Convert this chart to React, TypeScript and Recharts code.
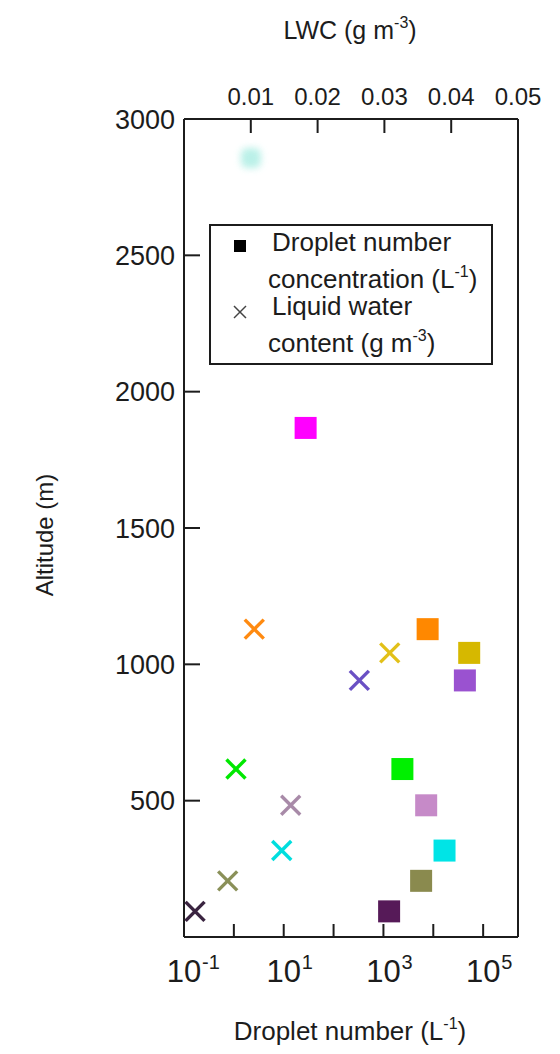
import React from "react";
import { ScatterChart, Scatter, XAxis, YAxis, Legend } from "recharts";

// altitude levels (m), shared by both series
const altitude = [94, 206, 317, 483, 616, 941, 1042, 1129, 1867];
const dropletNumber = [1300, 5700, 16800, 7200, 2400, 43000, 52500, 7700, 27.5];
const squareColors = ["#561a58", "#8a8a4e", "#00e4e6", "#c68ac8", "#00f000", "#9a52d0", "#d6b800", "#ff8800", "#ff00ff"];

const lwcAltitude = [94, 206, 317, 483, 616, 941, 1042, 1129];
const lwc = [0.00165, 0.00654, 0.01463, 0.01597, 0.00778, 0.02625, 0.0308, 0.01052];
const crossColors = ["#3a2440", "#8a9058", "#00dede", "#a88aa8", "#00e800", "#6a50c4", "#e2c018", "#ff8a10"];

// faint, washed-out point near the top
const fadedAltitude = [2857];
const fadedNumber = [2.2];

const altTicks = [500, 1000, 1500, 2000, 2500, 3000];
const lwcTicks = [0.01, 0.02, 0.03, 0.04, 0.05];
const nTicks = [0.1, 1, 10, 100, 1000, 10000, 100000];
const nLabels: Record<string, string> = { "0.1": "-1", "10": "1", "1000": "3", "100000": "5" };

const INK = "#1c1c1c";
const FONT = "'Liberation Sans', Arial, Helvetica, sans-serif";

const squareData = altitude.map((a, i) => ({ n: dropletNumber[i], alt: a, color: squareColors[i] }));
const crossData = lwcAltitude.map((a, i) => ({ lwc: lwc[i], alt: a, color: crossColors[i] }));
const fadedData = fadedAltitude.map((a, i) => ({ n: fadedNumber[i], alt: a }));

const Square = (props: any) => {
  const { cx, cy, payload } = props;
  return <rect x={cx - 11} y={cy - 11} width={22} height={22} fill={payload.color} />;
};

const Cross = (props: any) => {
  const { cx, cy, payload } = props;
  const r = 9.5;
  return (
    <g stroke={payload.color} strokeWidth={3.4}>
      <line x1={cx - r} y1={cy - r} x2={cx + r} y2={cy + r} />
      <line x1={cx - r} y1={cy + r} x2={cx + r} y2={cy - r} />
    </g>
  );
};

const Faded = (props: any) => {
  const { cx, cy } = props;
  return (
    <g>
      <defs>
        <filter id="fadeBlur" x="-1" y="-1" width="3" height="3">
          <feGaussianBlur stdDeviation={3.5} />
        </filter>
      </defs>
      <rect x={cx - 10} y={cy - 10} width={20} height={20} rx={6} fill="#aeeee4" opacity={0.85} filter="url(#fadeBlur)" />
    </g>
  );
};

const BottomTick = (props: any) => {
  const { x, y, payload } = props;
  const sup = nLabels[String(payload.value)];
  return (
    <g>
      <line x1={x} x2={x} y1={y} y2={y - 13} stroke={INK} strokeWidth={2} />
      {sup !== undefined && (
        <g fontFamily={FONT} fill={INK}>
          <text x={x} y={y + 45} textAnchor="middle" fontSize={31}>10</text>
          <text x={x + 18} y={y + 32} fontSize={20}>{sup}</text>
        </g>
      )}
    </g>
  );
};

const TopTick = (props: any) => {
  const { x, y, payload } = props;
  return (
    <g>
      <line x1={x} x2={x} y1={y} y2={y + 14} stroke={INK} strokeWidth={2} />
      <text x={x} y={y - 14} textAnchor="middle" fontSize={24} fontFamily={FONT} fill={INK}>
        {payload.value.toFixed(2)}
      </text>
    </g>
  );
};

const LeftTick = (props: any) => {
  const { x, y, payload } = props;
  return (
    <g>
      <line x1={x} x2={x + 16} y1={y} y2={y} stroke={INK} strokeWidth={2} />
      <text x={x - 9} y={y + 9.5} textAnchor="end" fontSize={27} fontFamily={FONT} fill={INK}>
        {payload.value}
      </text>
    </g>
  );
};

const RightTick = (props: any) => {
  const { x, y } = props;
  return <line x1={x - 14} x2={x} y1={y} y2={y} stroke={INK} strokeWidth={2} />;
};

const LegendBox = () => (
  <svg width={284} height={141} style={{ display: "block" }} fontFamily={FONT} fill={INK}>
    <rect x={1} y={1} width={282} height={139} fill="#fff" stroke={INK} strokeWidth={2} />
    <rect x={25} y={16} width={12} height={12} fill="#000" />
    <text x={63} y={27} fontSize={26}>Droplet number</text>
    <text x={59} y={64} fontSize={26}>
      concentration (L<tspan dy={-11} fontSize={16}>-1</tspan>
      <tspan dy={11}>)</tspan>
    </text>
    <g stroke="#444" strokeWidth={1.5}>
      <line x1={25} y1={82} x2={37} y2={94} />
      <line x1={25} y1={94} x2={37} y2={82} />
    </g>
    <text x={63} y={91} fontSize={26}>Liquid water</text>
    <text x={59} y={128} fontSize={26}>
      content (g m<tspan dy={-11} fontSize={16}>-3</tspan>
      <tspan dy={11}>)</tspan>
    </text>
  </svg>
);

export default function App() {
  return (
    <div style={{ position: "relative", width: 560, height: 1054, background: "#fff" }}>
      <style>{`body{margin:0;background:#fff}`}</style>
      <ScatterChart width={560} height={1054} margin={{ top: 0, right: 0, bottom: 0, left: 0 }}>
        <XAxis
          xAxisId="n"
          dataKey="n"
          type="number"
          scale="log"
          domain={[0.1, 500000]}
          allowDataOverflow
          ticks={nTicks}
          interval={0}
          height={117}
          tickSize={0}
          tickMargin={0}
          tick={BottomTick}
          axisLine={{ stroke: INK, strokeWidth: 2 }}
          label={{
            content: () => (
              <text x={350} y={1040} textAnchor="middle" fontSize={26} fontFamily={FONT} fill={INK}>
                Droplet number (L<tspan dy={-11} fontSize={16}>-1</tspan>
                <tspan dy={11}>)</tspan>
              </text>
            ),
          }}
        />
        <XAxis
          xAxisId="lwc"
          dataKey="lwc"
          type="number"
          orientation="top"
          domain={[0, 0.05]}
          allowDataOverflow
          ticks={lwcTicks}
          interval={0}
          height={119}
          tickSize={0}
          tickMargin={0}
          tick={TopTick}
          axisLine={{ stroke: INK, strokeWidth: 2 }}
          label={{
            content: () => (
              <text x={350} y={39} textAnchor="middle" fontSize={25} fontFamily={FONT} fill={INK}>
                LWC (g m<tspan dy={-11} fontSize={16}>-3</tspan>
                <tspan dy={11}>)</tspan>
              </text>
            ),
          }}
        />
        <YAxis
          yAxisId="alt"
          dataKey="alt"
          type="number"
          domain={[0, 3000]}
          allowDataOverflow
          ticks={altTicks}
          interval={0}
          width={184}
          tickSize={0}
          tickMargin={0}
          tick={LeftTick}
          axisLine={{ stroke: INK, strokeWidth: 2 }}
          label={{
            content: () => (
              <text
                x={44}
                y={535}
                transform="rotate(-90 44 535)"
                textAnchor="middle"
                dominantBaseline="central"
                fontSize={24}
                fontFamily={FONT}
                fill={INK}
              >
                Altitude (m)
              </text>
            ),
          }}
        />
        <YAxis
          yAxisId="right"
          type="number"
          orientation="right"
          domain={[0, 3000]}
          ticks={altTicks}
          interval={0}
          width={42}
          tickSize={0}
          tickMargin={0}
          tick={RightTick}
          axisLine={{ stroke: INK, strokeWidth: 2 }}
        />
        <Legend
          layout="vertical"
          align="center"
          verticalAlign="middle"
          wrapperStyle={{ left: 209, top: 224, width: 284, height: 141 }}
          content={LegendBox}
        />
        <Scatter
          name="faded"
          data={fadedData}
          xAxisId="n"
          yAxisId="alt"
          shape={Faded}
          legendType="none"
          isAnimationActive={false}
        />
        <Scatter
          name="Droplet number concentration (L-1)"
          data={squareData}
          xAxisId="n"
          yAxisId="alt"
          shape={Square}
          isAnimationActive={false}
        />
        <Scatter
          name="Liquid water content (g m-3)"
          data={crossData}
          xAxisId="lwc"
          yAxisId="alt"
          shape={Cross}
          isAnimationActive={false}
        />
      </ScatterChart>
    </div>
  );
}
